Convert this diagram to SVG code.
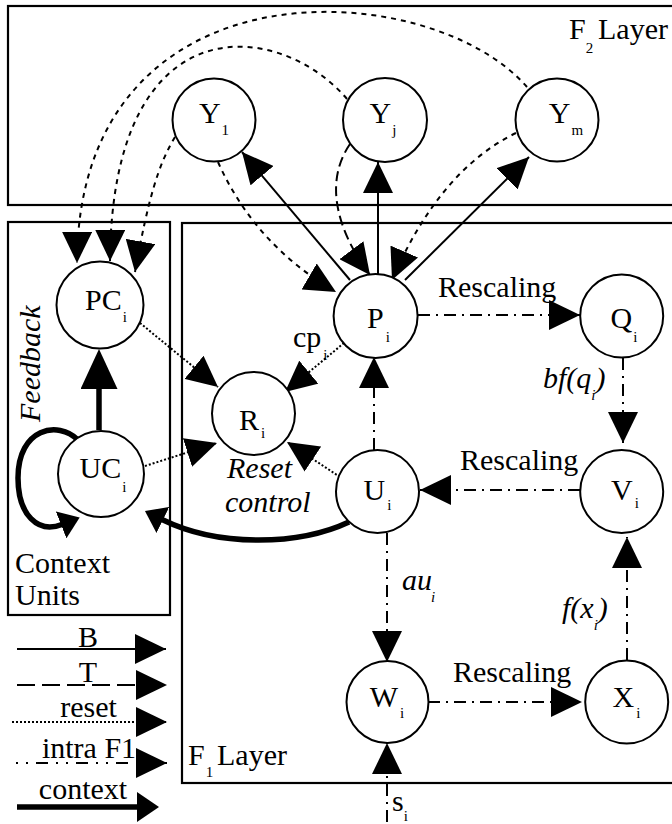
<svg xmlns="http://www.w3.org/2000/svg" width="672" height="824" viewBox="0 0 672 824">
<style>
text{font-family:"Liberation Serif","Times New Roman",serif;font-size:30px;fill:#000}
.it{font-style:italic}
.sub{font-size:15px}
.node{fill:#fff;stroke:#000;stroke-width:2}
.box{fill:none;stroke:#000;stroke-width:2.2}
.b{fill:none;stroke:#000;stroke-width:2}
.t{fill:none;stroke:#000;stroke-width:2;stroke-dasharray:10 5}
.tl{fill:none;stroke:#000;stroke-width:2;stroke-dasharray:18 7}
.fb{fill:none;stroke:#000;stroke-width:2;stroke-dasharray:5 5}
.r{fill:none;stroke:#000;stroke-width:2;stroke-dasharray:2 2}
.f1{fill:none;stroke:#000;stroke-width:2;stroke-dasharray:12 6 2 6}
.f1l{fill:none;stroke:#000;stroke-width:2;stroke-dasharray:2 8 2 8 12 8}
.c{fill:none;stroke:#000;stroke-width:5.5}
</style>
<defs>
<marker id="arr" markerUnits="userSpaceOnUse" viewBox="0 0 31 30" markerWidth="31" markerHeight="30" refX="31" refY="15" orient="auto"><path d="M0,0 L31,15 L0,30 z" fill="#000"/></marker>
<marker id="arrT" markerUnits="userSpaceOnUse" viewBox="0 0 20 29" markerWidth="20" markerHeight="29" refX="1" refY="14.5" orient="auto"><path d="M0,0 L20,14.5 L0,29 z" fill="#000"/></marker>
<marker id="arrBig" markerUnits="userSpaceOnUse" viewBox="0 0 40 37" markerWidth="40" markerHeight="37" refX="1" refY="18.5" orient="auto"><path d="M0,0 L40,18.5 L0,37 z" fill="#000"/></marker>
<marker id="arrCtx" markerUnits="userSpaceOnUse" viewBox="0 0 22 30" markerWidth="22" markerHeight="30" refX="1" refY="15" orient="auto"><path d="M0,0 L22,15 L0,30 z" fill="#000"/></marker>
</defs>

<g id="boxes">
<rect id="f2-layer" class="box" x="8" y="6" width="680" height="199"/>
<rect id="f1-layer" class="box" x="182" y="223" width="506" height="560"/>
<rect id="context-units" class="box" x="8" y="222" width="162" height="393"/>
</g>

<g id="connectors">
<!-- B: P to Y -->
<line class="b" x1="350" y1="280" x2="242" y2="152" marker-end="url(#arr)"/>
<line class="b" x1="378" y1="275" x2="378" y2="162" marker-end="url(#arr)"/>
<line class="b" x1="405" y1="280" x2="529" y2="157" marker-end="url(#arr)"/>
<!-- T: Yj to P -->
<path class="t" d="M350,144 C322,185 340,235 370,275" marker-end="url(#arr)"/>
<!-- Y1, Ym to P -->
<path class="fb" d="M218,162 Q255,245 336,292" marker-end="url(#arr)"/>
<path class="fb" d="M516,133 C460,160 420,215 392,280" marker-end="url(#arr)"/>
<!-- F2 to PC -->
<path class="fb" d="M527,87 C430,-25 78,-45 77,263" marker-end="url(#arr)"/>
<path class="fb" d="M347,99 C280,20 112,0 110,261" marker-end="url(#arr)"/>
<path class="fb" d="M175,137 C158,165 148,200 135,272" marker-end="url(#arr)"/>
<!-- reset -->
<line class="r" x1="140" y1="323" x2="218" y2="387" marker-end="url(#arr)"/>
<line class="r" x1="344" y1="343" x2="285" y2="392" marker-end="url(#arr)"/>
<line class="r" x1="145" y1="466" x2="217" y2="443" marker-end="url(#arr)"/>
<line class="r" x1="340" y1="477" x2="287" y2="442" marker-end="url(#arr)"/>
<!-- intra F1 -->
<line class="f1" x1="418" y1="315" x2="580" y2="315" marker-end="url(#arr)"/>
<line class="f1" x1="623" y1="358" x2="623" y2="443" marker-end="url(#arr)"/>
<line class="f1" x1="580" y1="490" x2="420" y2="490" marker-end="url(#arr)"/>
<line class="f1" x1="374" y1="450" x2="374" y2="357" marker-end="url(#arr)"/>
<line class="f1" x1="387" y1="533" x2="387" y2="662" marker-end="url(#arr)"/>
<line class="f1" x1="627" y1="660" x2="627" y2="537" marker-end="url(#arr)"/>
<line class="f1" x1="428" y1="702" x2="582" y2="702" marker-end="url(#arr)"/>
<line class="f1" x1="387" y1="822" x2="387" y2="743" marker-end="url(#arr)"/>
<!-- context -->
<line class="c" x1="99" y1="430" x2="99" y2="388" marker-end="url(#arrBig)"/>
<path class="c" d="M78,440 C58,420 18,428 18,478 C18,515 38,534 62,524.5" marker-end="url(#arrT)"/>
<path class="c" d="M349,522 C300,545 220,548 162,519.5" marker-end="url(#arrT)"/>
</g>

<g id="nodes">
<g id="Y1"><circle class="node" cx="214" cy="120" r="41.5"/><text x="214" y="123" text-anchor="middle">Y<tspan class="sub" dx="1" dy="12">1</tspan></text></g>
<g id="Yj"><circle class="node" cx="385" cy="120" r="42"/><text x="383" y="123" text-anchor="middle">Y<tspan class="sub" dx="1" dy="12">j</tspan></text></g>
<g id="Ym"><circle class="node" cx="557" cy="120" r="41.5"/><text x="566" y="123" text-anchor="middle">Y<tspan class="sub" dx="1" dy="12">m</tspan></text></g>
<g id="PC"><circle class="node" cx="100" cy="305" r="43.5"/><text x="106" y="310" text-anchor="middle">PC<tspan class="sub" dx="1" dy="12">i</tspan></text></g>
<g id="UC"><circle class="node" cx="101" cy="474" r="43"/><text x="103" y="478" text-anchor="middle">UC<tspan class="sub" dx="1" dy="14">i</tspan></text></g>
<g id="R"><circle class="node" cx="253.5" cy="413.5" r="41.5"/><text x="252" y="430" text-anchor="middle">R<tspan class="sub" dx="2" dy="8">i</tspan></text></g>
<g id="P"><circle class="node" cx="375.6" cy="316" r="42"/><text x="378.5" y="328" text-anchor="middle">P<tspan class="sub" dx="2" dy="14">i</tspan></text></g>
<g id="Q"><circle class="node" cx="621.7" cy="316" r="41.5"/><text x="624" y="328" text-anchor="middle">Q<tspan class="sub" dx="1" dy="14">i</tspan></text></g>
<g id="U"><circle class="node" cx="377.5" cy="491.5" r="41.5"/><text x="377.5" y="500" text-anchor="middle">U<tspan class="sub" dx="2" dy="10">i</tspan></text></g>
<g id="V"><circle class="node" cx="621.7" cy="491.5" r="41.5"/><text x="625" y="500" text-anchor="middle">V<tspan class="sub" dx="2" dy="8">i</tspan></text></g>
<g id="W"><circle class="node" cx="387.5" cy="702" r="41"/><text x="387" y="707" text-anchor="middle">W<tspan class="sub" dx="2" dy="11">i</tspan></text></g>
<g id="X"><circle class="node" cx="626.7" cy="702" r="41.5"/><text x="626.5" y="707" text-anchor="middle">X<tspan class="sub" dx="2" dy="11">i</tspan></text></g>
</g>

<g id="labels">
<text x="569" y="39">F<tspan class="sub" dy="14">2</tspan><tspan x="598" y="39">Layer</tspan></text>
<text x="188" y="765">F<tspan class="sub" dx="1" dy="12">1</tspan><tspan x="217" y="765">Layer</tspan></text>
<text x="293" y="347">cp<tspan class="sub" dx="2" dy="13">i</tspan></text>
<text x="438" y="297">Rescaling</text>
<text x="460" y="470">Rescaling</text>
<text x="453" y="682">Rescaling</text>
<text class="it" x="543" y="388">bf(q<tspan class="sub" dy="12">i</tspan><tspan dy="-12">)</tspan></text>
<text class="it" x="402" y="590">au<tspan class="sub" dx="-1" dy="12">i</tspan></text>
<text class="it" x="562" y="618">f(x<tspan class="sub" dy="12">i</tspan><tspan dy="-12">)</tspan></text>
<text class="it" x="227" y="478">Reset</text>
<text class="it" x="225" y="512">control</text>
<text class="it" transform="translate(40,422) rotate(-90)">Feedback</text>
<text x="15" y="573">Context</text>
<text x="15" y="605">Units</text>
<text x="392" y="811">s<tspan class="sub" dy="10">i</tspan></text>
</g>

<g id="legend">
<line class="b" x1="17" y1="649" x2="166" y2="649" marker-end="url(#arr)"/>
<line class="tl" x1="17" y1="685" x2="167" y2="685" marker-end="url(#arr)"/>
<line class="r" x1="12" y1="722" x2="167" y2="722" marker-end="url(#arr)"/>
<line class="f1l" x1="16" y1="763" x2="167" y2="763" marker-end="url(#arr)"/>
<line class="c" x1="17" y1="807" x2="138" y2="807" marker-end="url(#arrCtx)"/>
<text x="88" y="647" text-anchor="middle">B</text>
<text x="88" y="682" text-anchor="middle">T</text>
<text x="88.5" y="717" text-anchor="middle">reset</text>
<text x="89" y="758" text-anchor="middle">intra F1</text>
<text x="83" y="799" text-anchor="middle">context</text>
</g>
</svg>
